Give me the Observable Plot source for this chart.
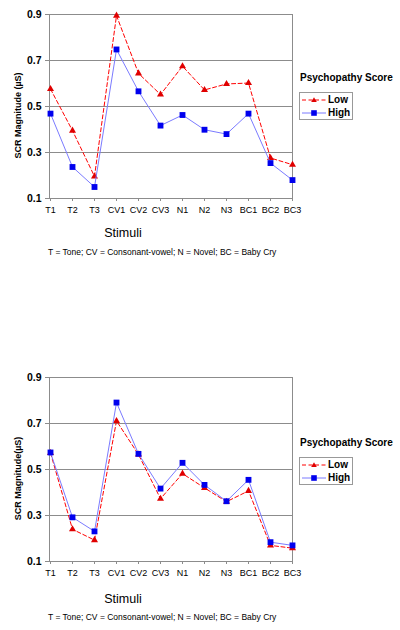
<!DOCTYPE html>
<html>
<head>
<meta charset="utf-8">
<script src="https://cdn.jsdelivr.net/npm/d3@7"></script>
<script src="https://cdn.jsdelivr.net/npm/@observablehq/plot@0.6"></script>
<style>
  html, body { margin: 0; padding: 0; background: #fff; }
  body { width: 400px; height: 630px; position: relative; overflow: hidden;
         font-family: "Liberation Sans", Arial, sans-serif; color: #000; }
  .chart { position: absolute; left: 0; }
  .abs { position: absolute; white-space: nowrap; line-height: 1; }
  .xlab { font-size: 12.5px; transform: translate(-50%, -50%); }
  .cap { font-size: 8.5px; transform: translateY(-50%); }
  .ltitle { font-size: 10px; font-weight: bold; transform: translateY(-50%); }
  .lbox { border: 1px solid #999; background: #fff; }
  .lrow { position: absolute; left: 2px; height: 12px; display: flex; align-items: center;
          font-size: 10px; font-weight: bold; }
  .lrow svg { margin-right: 2px; }
</style>
</head>
<body>
<div id="c1" class="chart" style="top:0px"></div>
<div id="c2" class="chart" style="top:363px"></div>
<script>
// ---- data ----
const categories = ["T1","T2","T3","CV1","CV2","CV3","N1","N2","N3","BC1","BC2","BC3"];
const groups = ["Low", "High"];
const yTicks = [0.1, 0.3, 0.5, 0.7, 0.9];

const top_low  = [0.576, 0.395, 0.196, 0.895, 0.644, 0.552, 0.675, 0.572, 0.598, 0.602, 0.276, 0.247];
const top_high = [0.469, 0.237, 0.150, 0.748, 0.566, 0.417, 0.463, 0.399, 0.380, 0.469, 0.254, 0.180];
const bot_low  = [0.572, 0.240, 0.193, 0.711, 0.565, 0.373, 0.482, 0.420, 0.360, 0.407, 0.170, 0.158];
const bot_high = [0.574, 0.292, 0.231, 0.791, 0.568, 0.417, 0.529, 0.433, 0.362, 0.455, 0.184, 0.170];

const yLabel1 = "SCR Magnitude (µS)";
const yLabel2 = "SCR Magnitude(µS)";
const xLabel = "Stimuli";
const caption = "T = Tone; CV = Consonant-vowel; N = Novel; BC = Baby Cry";
const legendTitle = "Psychopathy Score";

const LOW_COLOR = "#ff0000";
const LOW_MARK = "#e00000";
const HIGH_LINE = "#7b7bff";
const HIGH_MARK = "#0000ee";
const GRID = "#8c8c8c";

function rows(low, high) {
  return categories.map((c, i) => ({cat: c, low: low[i], high: high[i]}));
}

function makeChart(data, yLabel) {
  return Plot.plot({
    width: 400,
    height: 265,
    marginTop: 14,
    marginBottom: 67,
    marginLeft: 49,
    marginRight: 108,
    style: {fontFamily: "'Liberation Sans', Arial, sans-serif", background: "#fff", color: "#000"},
    x: {type: "point", domain: categories, padding: 0, label: null},
    y: {domain: [0.1, 0.9], ticks: yTicks, label: null},
    marks: [
      Plot.gridY(yTicks, {stroke: GRID, strokeOpacity: 1}),
      Plot.frame({stroke: GRID}),
      Plot.axisY(yTicks, {tickFormat: d3.format(".1f"), tickSize: 4, tickPadding: 4,
        stroke: GRID, fill: "#000", fontSize: 10.5, fontWeight: "bold", label: null}),
      Plot.axisX({tickSize: 3, tickPadding: 5, stroke: GRID, fill: "#000", fontSize: 9, label: null}),
      Plot.text([yLabel], {frameAnchor: "left", textAnchor: "middle", rotate: -90, dx: -31, dy: 9,
        fontSize: 9, fontWeight: "bold", fill: "#000"}),
      Plot.line(data, {x: "cat", y: "low", stroke: LOW_COLOR, strokeWidth: 1, strokeDasharray: "4,2.5"}),
      Plot.dot(data, {x: "cat", y: "low", symbol: "triangle", r: 2.6, fill: LOW_MARK, stroke: "none"}),
      Plot.line(data, {x: "cat", y: "high", stroke: HIGH_LINE, strokeWidth: 1}),
      Plot.dot(data, {x: "cat", y: "high", symbol: "square", r: 3.3, fill: HIGH_MARK, stroke: "none"})
    ]
  });
}

document.getElementById("c1").append(makeChart(rows(top_low, top_high), yLabel1));
document.getElementById("c2").append(makeChart(rows(bot_low, bot_high), yLabel2));

// ---- HTML labels, captions, legends ----
function addText(cls, text, left, top) {
  const d = document.createElement("div");
  d.className = "abs " + cls;
  d.textContent = text;
  d.style.left = left + "px";
  d.style.top = top + "px";
  document.body.append(d);
}
function sampleSvg(g) {
  const ns = "http://www.w3.org/2000/svg";
  const s = document.createElementNS(ns, "svg");
  s.setAttribute("width", 24); s.setAttribute("height", 10);
  const l = document.createElementNS(ns, "line");
  l.setAttribute("x1", 0); l.setAttribute("x2", 24); l.setAttribute("y1", 5); l.setAttribute("y2", 5);
  if (g === "Low") {
    l.setAttribute("stroke", LOW_COLOR); l.setAttribute("stroke-dasharray", "4,2.5");
  } else {
    l.setAttribute("stroke", HIGH_LINE);
  }
  s.append(l);
  const p = document.createElementNS(ns, "path");
  if (g === "Low") {
    p.setAttribute("d", "M12,2.2L14.8,7L9.2,7Z"); p.setAttribute("fill", LOW_MARK);
  } else {
    p.setAttribute("d", "M9.2,2.2H14.8V7.8H9.2Z"); p.setAttribute("fill", HIGH_MARK);
  }
  s.append(p);
  return s;
}
function addLegend(titleY, boxTop) {
  addText("ltitle", legendTitle, 300, titleY);
  const box = document.createElement("div");
  box.className = "abs lbox";
  box.style.left = "299px"; box.style.top = boxTop + "px";
  box.style.width = "52px"; box.style.height = "26px";
  groups.forEach((g, i) => {
    const r = document.createElement("div");
    r.className = "lrow";
    r.style.top = (1 + i * 13) + "px";
    r.append(sampleSvg(g));
    const t = document.createElement("span");
    t.textContent = g;
    r.append(t);
    box.append(r);
  });
  document.body.append(box);
}

addText("xlab", xLabel, 123, 233);
addText("cap", caption, 48, 252);
addLegend(78, 92);

addText("xlab", xLabel, 123, 599);
addText("cap", caption, 48, 617);
addLegend(443, 457);
</script>
</body>
</html>
